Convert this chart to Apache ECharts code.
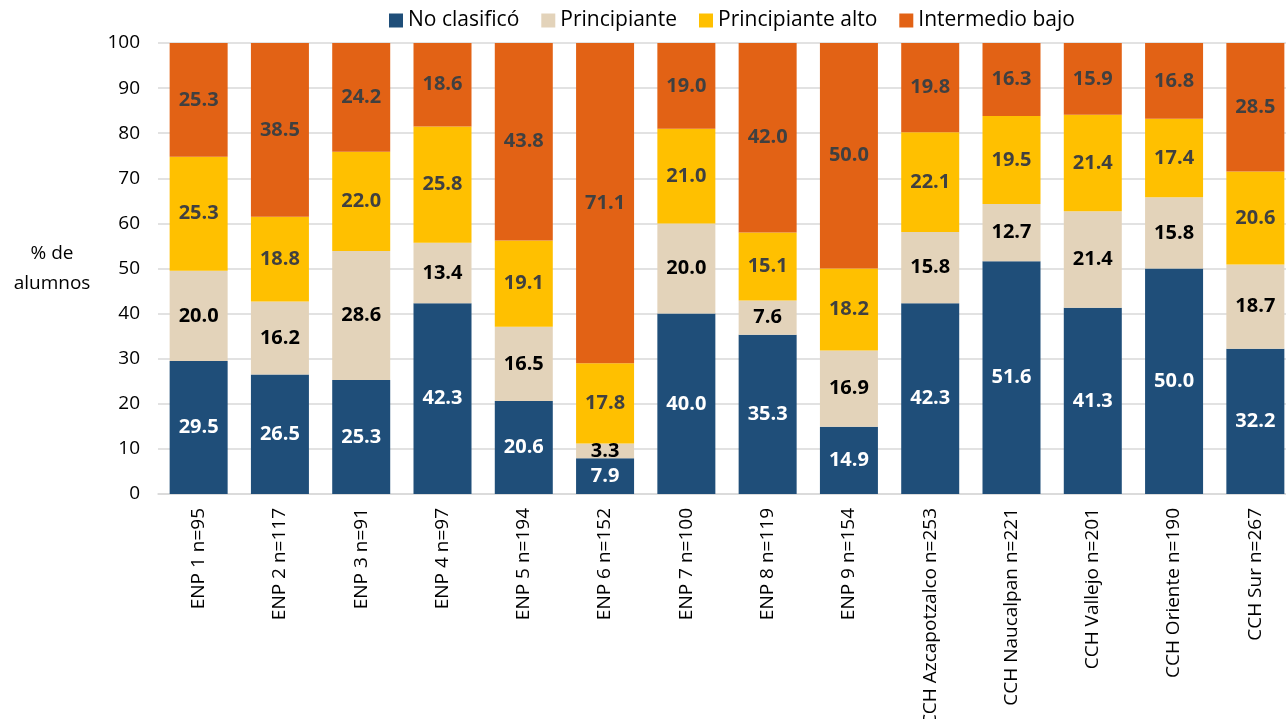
<!DOCTYPE html>
<html><head><meta charset="utf-8">
<script src="https://cdn.jsdelivr.net/npm/echarts@6/dist/echarts.min.js"></script>
<style>html,body{margin:0;padding:0;background:#fff;overflow:hidden}#c{width:1300px;height:719px}</style>
</head><body><div id="c"></div>
<script>
const categories = ['ENP 1 n=95','ENP 2 n=117','ENP 3 n=91','ENP 4 n=97','ENP 5 n=194','ENP 6 n=152','ENP 7 n=100','ENP 8 n=119','ENP 9 n=154','CCH Azcapotzalco n=253','CCH Naucalpan n=221','CCH Vallejo n=201','CCH Oriente n=190','CCH Sur n=267'];
const noClasifico = [29.5,26.5,25.3,42.3,20.6,7.9,40.0,35.3,14.9,42.3,51.6,41.3,50.0,32.2];
const principiante = [20.0,16.2,28.6,13.4,16.5,3.3,20.0,7.6,16.9,15.8,12.7,21.4,15.8,18.7];
const principianteAlto = [25.3,18.8,22.0,25.8,19.1,17.8,21.0,15.1,18.2,22.1,19.5,21.4,17.4,20.6];
const intermedioBajo = [25.3,38.5,24.2,18.6,43.8,71.1,19.0,42.0,50.0,19.8,16.3,15.9,16.8,28.5];
const yTicks = [0,10,20,30,40,50,60,70,80,90,100];

const FONT = '"Open Sans", "Noto Sans", sans-serif';
function mk(name, data, color, labelColor){
  return {name, type:'bar', stack:'t', data, barWidth:58,
    itemStyle:{color},
    label:{show:true, position:'inside', color:labelColor, fontFamily:FONT, fontWeight:'bold', fontSize:20,
      formatter:p=>p.value.toFixed(1)}};
}
const chart = echarts.init(document.getElementById('c'), null, {renderer:'canvas'});
chart.setOption({
  animation:false,
  textStyle:{fontFamily:FONT},
  legend:{top:5, left:384, itemWidth:14, itemHeight:14, itemGap:22, icon:'rect',
    textStyle:{fontSize:21, color:'#000', fontFamily:FONT}},
  grid:{left:158, top:43, width:1138, height:451, containLabel:false, outerBoundsMode:'none'},
  xAxis:{type:'category', data:categories,
    axisLine:{lineStyle:{color:'#d9d9d9', width:1.5}}, axisTick:{show:false},
    axisLabel:{rotate:90, margin:14, fontSize:19, color:'#000', fontFamily:FONT, interval:0}},
  yAxis:{type:'value', min:yTicks[0], max:yTicks[yTicks.length-1], interval:10,
    name:'% de\nalumnos', nameLocation:'middle', nameRotate:0, nameGap:106,
    nameTextStyle:{fontSize:19, color:'#000', align:'center', lineHeight:30, fontFamily:FONT},
    axisLabel:{fontSize:19, color:'#000', margin:18, fontFamily:FONT},
    splitLine:{lineStyle:{color:'#d9d9d9', width:1.5}}},
  series:[
    mk('No clasificó', noClasifico, '#1F4E79', '#ffffff'),
    mk('Principiante', principiante, '#E3D3BA', '#000000'),
    mk('Principiante alto', principianteAlto, '#FFC000', '#404040'),
    mk('Intermedio bajo', intermedioBajo, '#E26215', '#404040')
  ]
});
</script></body></html>
